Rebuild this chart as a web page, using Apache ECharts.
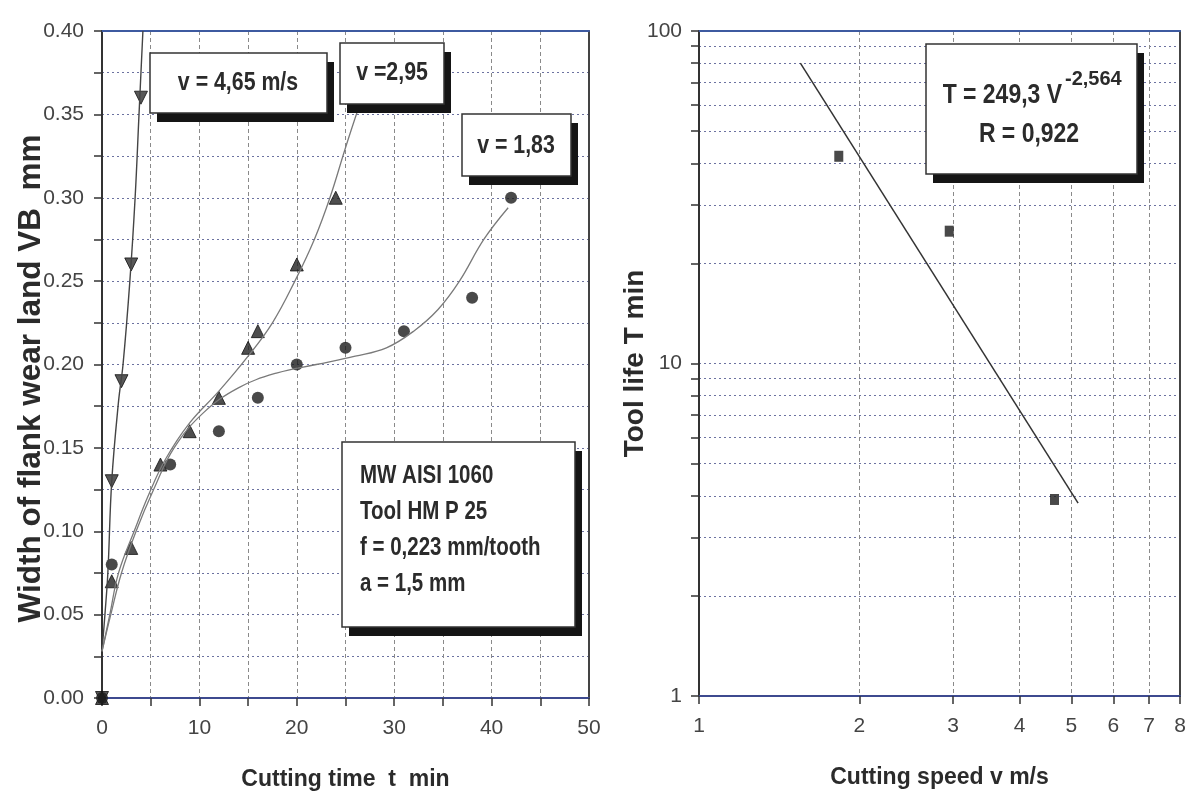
<!DOCTYPE html>
<html>
<head>
<meta charset="utf-8">
<script src="https://cdn.jsdelivr.net/npm/echarts@6/dist/echarts.min.js"></script>
<style>
    html, body { margin: 0; padding: 0; background: #fff; }
    #main { width: 1192px; height: 798px; }
</style>
</head>
<body>
<div id="main"></div>
<script>
// left chart: width of flank wear land VB (mm) against cutting time t (min)
const timeV465 = [0, 1, 2, 3, 4];
const wearV465 = [0, 0.13, 0.19, 0.26, 0.36];
const timeV295 = [0, 1, 3, 6, 9, 12, 15, 16, 20, 24];
const wearV295 = [0, 0.07, 0.09, 0.14, 0.16, 0.18, 0.21, 0.22, 0.26, 0.30];
const timeV183 = [0, 1, 7, 12, 16, 20, 25, 31, 38, 42];
const wearV183 = [0, 0.08, 0.14, 0.16, 0.18, 0.20, 0.21, 0.22, 0.24, 0.30];

// fitted curves, points
const fitTimeV465 = [0, 0.3, 0.6, 1.0, 1.7, 2.16, 2.86, 3.4, 3.8, 4.2];
const fitWearV465 = [0.028, 0.05, 0.075, 0.13, 0.178, 0.20, 0.25, 0.30, 0.35, 0.40];
const fitTimeV295 = [0, 0.8, 1.7, 3.3, 4.8, 6.5, 9, 12, 15, 17.5, 19.8, 21.8, 23.4, 25, 26.4];
const fitWearV295 = [0.028, 0.05, 0.075, 0.10, 0.122, 0.143, 0.165, 0.184, 0.205, 0.225, 0.25, 0.275, 0.30, 0.33, 0.355];
const fitTimeV183 = [0, 0.9, 2.0, 3.5, 5.3, 7.4, 10.4, 14, 18, 22, 26, 29.2, 32, 34.5, 36.7, 39.2, 41.7];
const fitWearV183 = [0.028, 0.05, 0.075, 0.10, 0.125, 0.15, 0.171, 0.186, 0.195, 0.20, 0.205, 0.21, 0.22, 0.233, 0.25, 0.275, 0.294];

// right chart: tool life T (min) against cutting speed v (m/s), log-log
const speed = [1.83, 2.95, 4.65];
const toolLife = [42, 25, 3.9];
const fitSpeed = [1.55, 5.15];
const fitLife = [80, 3.8];

// ticks
const wearTicks = [0, 0.05, 0.10, 0.15, 0.20, 0.25, 0.30, 0.35, 0.40];
const timeTicks = [0, 10, 20, 30, 40, 50];
const speedTicks = [1, 2, 3, 4, 5, 6, 7, 8];
const lifeTicks = [1, 10, 100];
const lifeGrid = [1, 2, 3, 4, 5, 6, 7, 8, 9, 10, 20, 30, 40, 50, 60, 70, 80, 90, 100];

const FONT = "'Liberation Sans', Arial, sans-serif";

function zip(xs, ys) {
    return xs.map((x, i) => [x, ys[i]]);
}
function zipLog(xs, ys) {
    return xs.map((x, i) => [Math.log10(x), Math.log10(ys[i])]);
}

const tickLabel = {fontFamily: FONT, fontSize: 21, color: '#444'};
const titleStyle = {fontFamily: FONT, fontWeight: 'bold', color: '#2b2b2b'};
const hGrid = {show: true, lineStyle: {color: '#6c72a0', width: 1, type: [2, 3]}};
const vGrid = {show: true, lineStyle: {color: '#8a8a8a', width: 1, type: [4, 3]}};
const tick = {show: true, inside: false, length: 8, lineStyle: {color: '#333', width: 1.5}};

function border(gridIndex, position, min, max, color) {
    return {
        type: 'value', gridIndex: gridIndex, position: position, min: min, max: max,
        axisLine: {show: true, onZero: false, lineStyle: {color: color, width: 2}},
        axisTick: {show: false}, axisLabel: {show: false}, splitLine: {show: false}
    };
}

function framedBox(x, y, w, h) {
    return [
        {type: 'rect', z: 100, shape: {x: x + 7, y: y + 9, width: w, height: h}, style: {fill: '#151515'}},
        {type: 'rect', z: 101, shape: {x: x, y: y, width: w, height: h}, style: {fill: '#fff', stroke: '#333', lineWidth: 1.5}}
    ];
}
// bold text squeezed sideways, to look like the narrow bold face of the original
function boxText(x, y, text, size, align, squeeze) {
    return {
        type: 'text', z: 102, x: x, y: y, scaleX: squeeze || 0.82,
        style: {
            text: text, fill: '#2b2b2b', fontFamily: FONT, fontWeight: 'bold', fontSize: size,
            align: align || 'center', verticalAlign: 'middle'
        }
    };
}

const graphics = [].concat(
    framedBox(150, 53, 177, 60), [boxText(238, 83, 'v = 4,65 m/s', 26)],
    framedBox(340, 43, 104, 61), [boxText(392, 73, 'v =2,95', 26)],
    framedBox(462, 114, 109, 62), [boxText(516, 146, 'v = 1,83', 26)],
    framedBox(342, 442, 233, 185), [
        boxText(360, 476, 'MW AISI 1060', 25, 'left'),
        boxText(360, 512, 'Tool HM P 25', 25, 'left'),
        boxText(360, 548, 'f = 0,223 mm/tooth', 25, 'left'),
        boxText(360, 584, 'a = 1,5 mm', 25, 'left')
    ],
    framedBox(926, 44, 211, 130), [
        boxText(1062, 95, 'T = 249,3 V', 28, 'right'),
        boxText(1065, 79, '-2,564', 20, 'left', 1),
        boxText(1029, 134, 'R = 0,922', 28)
    ]
);

const chart = echarts.init(document.getElementById('main'));

const option = {
    animation: false,
    backgroundColor: '#fff',
    grid: [
        {left: 102, top: 31, width: 487, height: 667},
        {left: 699, top: 31, width: 481, height: 665}
    ],
    xAxis: [
        {
            type: 'value', gridIndex: 0, min: 0, max: 50, interval: 5,
            name: 'Cutting time  t  min', nameLocation: 'middle', nameGap: 70, nameMoveOverlap: false,
            nameTextStyle: Object.assign({fontSize: 23}, titleStyle),
            axisLine: {show: true, onZero: false, lineStyle: {color: '#3d4a8f', width: 2}},
            axisTick: tick,
            axisLabel: Object.assign({customValues: timeTicks, margin: 20}, tickLabel),
            splitLine: vGrid
        },
        border(0, 'top', 0, 50, '#3d5aa0'),
        {
            type: 'value', gridIndex: 1, min: 0, max: Math.log10(8),
            name: 'Cutting speed v m/s', nameLocation: 'middle', nameGap: 70, nameMoveOverlap: false,
            nameTextStyle: Object.assign({fontSize: 23}, titleStyle),
            axisLine: {show: true, onZero: false, lineStyle: {color: '#3d4a8f', width: 2}},
            axisTick: Object.assign({customValues: speedTicks.map(Math.log10)}, tick),
            axisLabel: Object.assign({
                customValues: speedTicks.map(Math.log10), margin: 20,
                formatter: v => String(Math.round(Math.pow(10, v)))
            }, tickLabel),
            splitLine: vGrid
        },
        border(1, 'top', 0, Math.log10(8), '#3d5aa0')
    ],
    yAxis: [
        {
            type: 'value', gridIndex: 0, min: 0, max: 0.4, interval: 0.025,
            name: 'Width of flank wear land VB  mm', nameLocation: 'middle', nameGap: 55, nameMoveOverlap: false,
            nameTextStyle: Object.assign({fontSize: 31.5, padding: [0, 28, 0, 0]}, titleStyle),
            axisLine: {show: true, onZero: false, lineStyle: {color: '#333', width: 2}},
            axisTick: tick,
            axisLabel: Object.assign({customValues: wearTicks, margin: 18, formatter: v => v.toFixed(2)}, tickLabel),
            splitLine: hGrid
        },
        border(0, 'right', 0, 0.4, '#444'),
        {
            type: 'value', gridIndex: 1, min: 0, max: 2,
            name: 'Tool life T min', nameLocation: 'middle', nameGap: 50, nameMoveOverlap: false,
            nameTextStyle: Object.assign({fontSize: 28}, titleStyle),
            axisLine: {show: true, onZero: false, lineStyle: {color: '#333', width: 2}},
            axisTick: Object.assign({customValues: lifeGrid.map(Math.log10)}, tick),
            axisLabel: Object.assign({
                customValues: lifeTicks.map(Math.log10), margin: 17,
                formatter: v => String(Math.round(Math.pow(10, v)))
            }, tickLabel),
            splitLine: hGrid
        },
        border(1, 'right', 0, 2, '#444')
    ],
    series: [
        {
            name: 'fit v=4,65', type: 'line', xAxisIndex: 0, yAxisIndex: 0,
            smooth: 0.4, symbol: 'none',
            lineStyle: {color: '#444', width: 1.4}, data: zip(fitTimeV465, fitWearV465)
        },
        {
            name: 'fit v=2,95', type: 'line', xAxisIndex: 0, yAxisIndex: 0,
            smooth: 0.4, symbol: 'none',
            lineStyle: {color: '#7a7a7a', width: 1.3}, data: zip(fitTimeV295, fitWearV295)
        },
        {
            name: 'fit v=1,83', type: 'line', xAxisIndex: 0, yAxisIndex: 0,
            smooth: 0.4, symbol: 'none',
            lineStyle: {color: '#7a7a7a', width: 1.3}, data: zip(fitTimeV183, fitWearV183)
        },
        {
            name: 'v=4,65', type: 'scatter', xAxisIndex: 0, yAxisIndex: 0,
            symbol: 'triangle', symbolRotate: 180, symbolSize: 13,
            itemStyle: {color: '#2e2e2e', borderColor: '#111', borderWidth: 1},
            data: zip(timeV465, wearV465)
        },
        {
            name: 'v=2,95', type: 'scatter', xAxisIndex: 0, yAxisIndex: 0,
            symbol: 'triangle', symbolSize: 13,
            itemStyle: {color: '#222', borderColor: '#111', borderWidth: 1},
            data: zip(timeV295, wearV295)
        },
        {
            name: 'v=1,83', type: 'scatter', xAxisIndex: 0, yAxisIndex: 0,
            symbol: 'circle', symbolSize: 12,
            itemStyle: {color: '#1c1c1c'},
            data: zip(timeV183, wearV183)
        },
        {
            name: 'fit T', type: 'line', xAxisIndex: 2, yAxisIndex: 2,
            symbol: 'none', lineStyle: {color: '#333', width: 1.5},
            data: zipLog(fitSpeed, fitLife)
        },
        {
            name: 'T', type: 'scatter', xAxisIndex: 2, yAxisIndex: 2,
            symbol: 'rect', symbolSize: [9, 11],
            itemStyle: {color: '#1c1c1c'},
            data: zipLog(speed, toolLife)
        }
    ],
    graphic: graphics
};

option && chart.setOption(option);
</script>
</body>
</html>
